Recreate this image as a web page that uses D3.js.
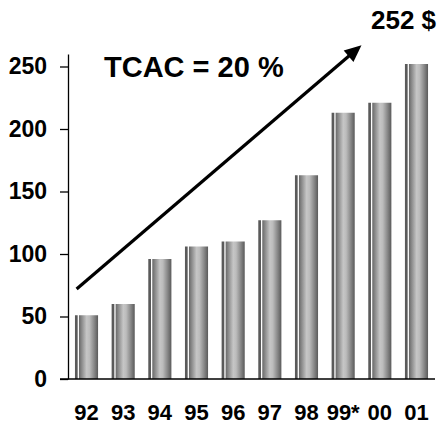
<!DOCTYPE html>
<html>
<head>
<meta charset="utf-8">
<script src="https://cdn.jsdelivr.net/npm/d3@7"></script>
<style>
  body { margin: 0; background: #fff; }
  svg { display: block; font-family: "Liberation Sans", Arial, sans-serif; font-weight: bold; }
</style>
</head>
<body>
<div id="chart"></div>
<script>
/* Data */
const YEARS = ['92', '93', '94', '95', '96', '97', '98', '99*', '00', '01'];
const VALUES = [51, 60, 96, 106, 110, 127, 163, 213, 221, 252];
const Y_TICKS = [0, 50, 100, 150, 200, 250];
const TREND_START = [-0.27, 72];   // [year index, value]
const TREND_END = [7.5, 267];
const TREND_LABEL = 'TCAC = 20 %';
const LAST_LABEL = '252 $';

/* Dimensions */
const WIDTH = 443;
const HEIGHT = 425;
const LEFT = 68, RIGHT = 435, BOTTOM = 379, TOP = 54;

const svg = d3.select('#chart').append('svg')
    .attr('width', WIDTH)
    .attr('height', HEIGHT);

const x = d3.scaleBand().domain(YEARS).range([LEFT, RIGHT])
    .paddingInner(0.37).paddingOuter(0.19);
const y = d3.scaleLinear().domain([0, 260]).range([BOTTOM, TOP]);
const xi = d3.scaleLinear().domain([0, YEARS.length - 1])
    .range([x(YEARS[0]) + x.bandwidth() / 2, x(YEARS[YEARS.length - 1]) + x.bandwidth() / 2]);

/* cylinder shading */
const grad = svg.append('defs').append('linearGradient')
    .attr('id', 'cyl').attr('x1', 0).attr('x2', 1).attr('y1', 0).attr('y2', 0);
[[0, '#686868'], [0.15, '#8c8c8c'], [0.4, '#c6c6c6'], [0.55, '#bcbcbc'], [0.8, '#878787'], [1, '#5a5a5a']]
    .forEach(s => grad.append('stop').attr('offset', s[0]).attr('stop-color', s[1]));

const bars = svg.append('g');
const data = YEARS.map((k, i) => ({ year: k, value: VALUES[i] }));

bars.selectAll('.stripe').data(data).enter().append('rect').classed('stripe', true)
    .attr('x', d => x(d.year))
    .attr('width', 2.7)
    .attr('y', d => y(d.value))
    .attr('height', d => BOTTOM - y(d.value))
    .attr('fill', '#5a5a5a');

bars.selectAll('.bar').data(data).enter().append('rect').classed('bar', true)
    .attr('x', d => x(d.year) + 4)
    .attr('width', x.bandwidth() - 4)
    .attr('y', d => y(d.value))
    .attr('height', d => BOTTOM - y(d.value))
    .attr('fill', 'url(#cyl)');

/* axes */
const yAxis = svg.append('g')
    .attr('transform', `translate(${LEFT},0)`)
    .call(d3.axisLeft(y).tickValues(Y_TICKS).tickSize(8).tickSizeOuter(0).tickPadding(13));
yAxis.select('.domain').attr('stroke', '#000').attr('stroke-width', 1.3);
yAxis.selectAll('.tick line').attr('stroke', '#000').attr('stroke-width', 1.3);
yAxis.selectAll('.tick text')
    .attr('font-size', 23).attr('font-family', '"Liberation Sans", Arial, sans-serif')
    .attr('font-weight', 'bold').attr('fill', '#000');

const xAxis = svg.append('g')
    .attr('transform', `translate(0,${BOTTOM})`)
    .call(d3.axisBottom(x).tickSize(0).tickPadding(25));
xAxis.select('.domain').attr('d', `M${LEFT - 8},0H${RIGHT}`)
    .attr('stroke', '#000').attr('stroke-width', 1.3);
xAxis.selectAll('.tick text')
    .attr('font-size', 22).attr('font-family', '"Liberation Sans", Arial, sans-serif')
    .attr('font-weight', 'bold').attr('fill', '#000');

/* trend arrow */
const x0 = xi(TREND_START[0]), y0 = y(TREND_START[1]);
const x1 = xi(TREND_END[0]), y1 = y(TREND_END[1]);
const len = Math.hypot(x1 - x0, y1 - y0);
const ux = (x1 - x0) / len, uy = (y1 - y0) / len;
const headLen = 17, headHalf = 7.5;
const bx = x1 - ux * headLen, by = y1 - uy * headLen;

svg.append('line')
    .attr('x1', x0).attr('y1', y0)
    .attr('x2', bx + ux * 2).attr('y2', by + uy * 2)
    .attr('stroke', '#000').attr('stroke-width', 3.2);
svg.append('path')
    .attr('d', `M${x1},${y1}L${bx - uy * headHalf},${by + ux * headHalf}L${bx + uy * headHalf},${by - ux * headHalf}Z`)
    .attr('fill', '#000');

svg.append('text')
    .attr('x', 104).attr('y', 77)
    .attr('font-size', 29)
    .text(TREND_LABEL);

svg.append('text')
    .attr('x', 371).attr('y', 29)
    .attr('font-size', 26)
    .text(LAST_LABEL);
</script>
</body>
</html>
